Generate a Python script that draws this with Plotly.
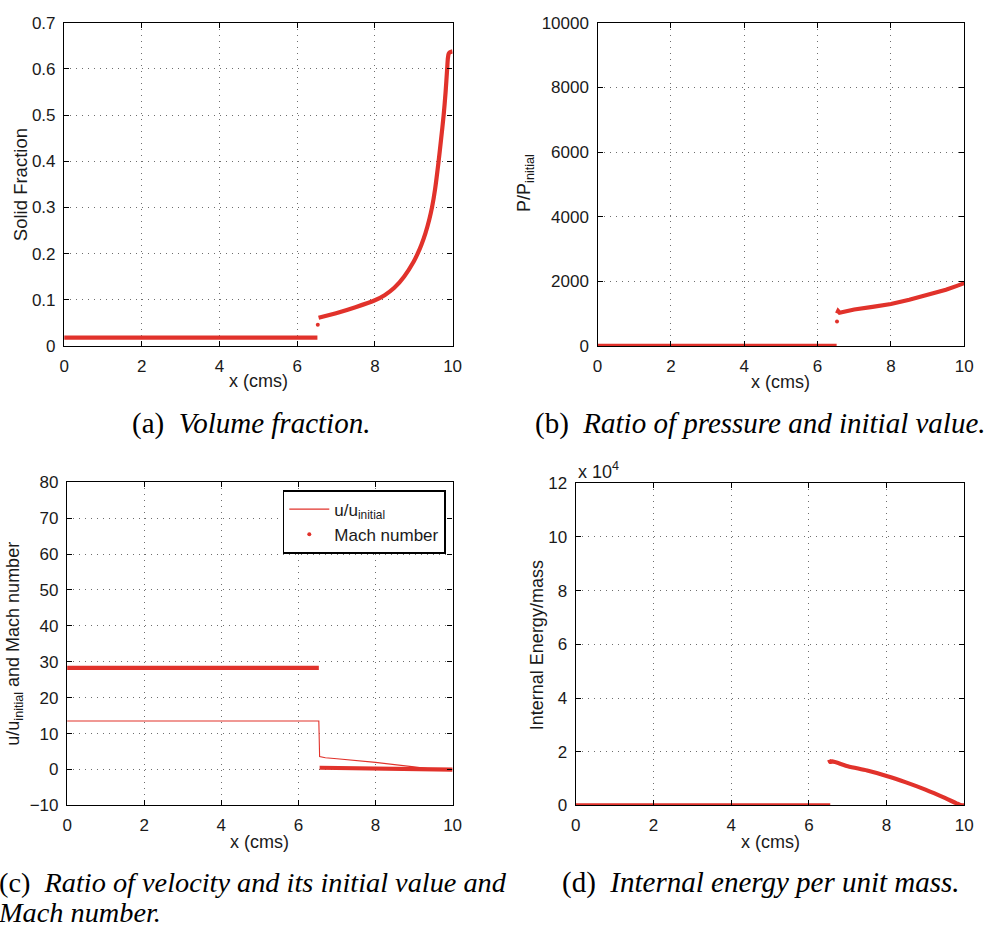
import plotly.graph_objects as go

RED = "#e1322b"
SANS = "Liberation Sans"
SERIF = "Liberation Serif"

# (a) solid volume fraction along the tube
sf_x_upstream = [0.0, 6.52]
sf_upstream = [0.018, 0.018]
sf_x_front = [6.53]
sf_front = [0.046]
sf_x_compacted = [6.55, 7.0, 7.5, 8.0, 8.25, 8.5, 8.75, 9.0, 9.1, 9.2, 9.3, 9.4, 9.47,
                  9.55, 9.64, 9.7, 9.77, 9.82, 9.86, 9.88, 9.9, 9.93, 10.0]
sf_compacted = [0.061, 0.071, 0.084, 0.099, 0.110, 0.126, 0.150, 0.183, 0.200, 0.220,
                0.244, 0.274, 0.300, 0.340, 0.400, 0.445, 0.500, 0.550, 0.600, 0.624,
                0.633, 0.636, 0.638]

# (b) pressure ratio P/P_initial
p_x_upstream = [0.0, 6.52]
p_upstream = [1.0, 1.0]
p_x_front = [6.53]
p_front = [760]
p_x_compacted = [6.53, 6.56, 6.6, 6.7, 7.0, 7.5, 8.0, 8.5, 9.0, 9.5, 9.8, 9.9, 10.0]
p_compacted = [1010, 1080, 1030, 1060, 1130, 1210, 1300, 1430, 1580, 1740, 1860, 1915, 1945]

# (c) velocity ratio u/u_initial and Mach number
u_x = [0.0, 6.53, 6.55, 6.7, 7.0, 8.0, 9.0, 9.4, 10.0]
u_ratio = [13.5, 13.5, 3.6, 3.3, 3.0, 2.0, 0.75, 0.2, 0.0]
mach_x_upstream = [0.0, 6.53]
mach_upstream = [28.3, 28.3]
mach_x_compacted = [6.55, 7.0, 8.0, 9.0, 10.0]
mach_compacted = [0.5, 0.4, 0.3, 0.1, 0.0]

# (d) internal energy per unit mass
ie_x_upstream = [0.0, 6.55]
ie_upstream = [0.0, 0.0]
ie_x_compacted = [6.52, 6.55, 6.6, 7.0, 7.5, 8.0, 8.5, 9.0, 9.5, 9.8, 9.9, 10.0]
ie_compacted = [17000, 16200, 16400, 14600, 13000, 11000, 8600, 5900, 2800, 800, 200, 0]
ie_tick_vals = [0, 20000, 40000, 60000, 80000, 100000, 120000]
ie_tick_text = ["0", "2", "4", "6", "8", "10", "12"]

W, H = 992, 934


def px_x(p):
    return p / W


def px_y(p):
    return 1 - p / H


fig = go.Figure()

THICK = 4.2


def thick(x, y, xa, ya, shape="linear"):
    fig.add_trace(go.Scatter(x=x, y=y, mode="lines",
                             line=dict(color=RED, width=THICK, shape=shape, smoothing=0.8),
                             xaxis=xa, yaxis=ya, showlegend=False, hoverinfo="skip"))


def dot(x, y, xa, ya):
    fig.add_trace(go.Scatter(x=x, y=y, mode="markers", marker=dict(color=RED, size=4),
                             xaxis=xa, yaxis=ya, showlegend=False, hoverinfo="skip"))


# (a)
thick(sf_x_upstream, sf_upstream, "x", "y")
dot(sf_x_front, sf_front, "x", "y")
thick(sf_x_compacted, sf_compacted, "x", "y", shape="spline")

# (b)
thick(p_x_upstream, p_upstream, "x2", "y2")
dot(p_x_front, p_front, "x2", "y2")
thick(p_x_compacted, p_compacted, "x2", "y2")

# (c)
fig.add_trace(go.Scatter(x=u_x, y=u_ratio, mode="lines", line=dict(color=RED, width=1.1),
                         name="u/u<sub>initial</sub>", xaxis="x3", yaxis="y3",
                         hoverinfo="skip"))
fig.add_trace(go.Scatter(x=mach_x_upstream, y=mach_upstream, mode="lines",
                         line=dict(color=RED, width=THICK), xaxis="x3", yaxis="y3",
                         legendgroup="mach", showlegend=False, hoverinfo="skip"))
fig.add_trace(go.Scatter(x=mach_x_compacted, y=mach_compacted, mode="lines",
                         line=dict(color=RED, width=THICK), xaxis="x3", yaxis="y3",
                         legendgroup="mach", showlegend=False, hoverinfo="skip"))
fig.add_trace(go.Scatter(x=[None], y=[None], mode="markers", name="Mach number",
                         marker=dict(color=RED, size=4), xaxis="x3", yaxis="y3",
                         legendgroup="mach", hoverinfo="skip"))

# (d)
thick(ie_x_upstream, ie_upstream, "x4", "y4")
thick(ie_x_compacted, ie_compacted, "x4", "y4", shape="spline")

axis_common = dict(
    showline=True, linecolor="black", linewidth=1.4, mirror="ticks",
    ticks="inside", ticklen=5, tickwidth=1, tickcolor="black",
    showgrid=True, gridcolor="#6e6e6e", gridwidth=1, griddash="1px,5px",
    zeroline=False, tickfont=dict(family=SANS, size=17, color="#1a1a1a"),
)

xdom = {
    "a": [px_x(60), px_x(454)],
    "b": [px_x(601), px_x(973)],
    "c": [px_x(63), px_x(454)],
    "d": [px_x(579), px_x(973)],
}
ydom = {
    "a": [px_y(344), px_y(14)],
    "b": [px_y(344), px_y(14)],
    "c": [px_y(813), px_y(483)],
    "d": [px_y(813), px_y(484)],
}

xticks = dict(range=[0, 10], tickvals=[0, 2, 4, 6, 8, 10], ticklabelstandoff=4)
ytick_std = dict(ticklabelstandoff=4)

fig.update_layout(
    width=W, height=H,
    margin=dict(l=0, r=0, t=0, b=0),
    paper_bgcolor="white", plot_bgcolor="white",
    xaxis=dict(domain=xdom["a"], anchor="y", **xticks, **axis_common),
    yaxis=dict(domain=ydom["a"], anchor="x", range=[0, 0.7],
               tickvals=[0, 0.1, 0.2, 0.3, 0.4, 0.5, 0.6, 0.7],
               ticktext=["0", "0.1", "0.2", "0.3", "0.4", "0.5", "0.6", "0.7"],
               **ytick_std, **axis_common),
    xaxis2=dict(domain=xdom["b"], anchor="y2", **xticks, **axis_common),
    yaxis2=dict(domain=ydom["b"], anchor="x2", range=[0, 10000],
                tickvals=[0, 2000, 4000, 6000, 8000, 10000],
                ticktext=["0", "2000", "4000", "6000", "8000", "10000"],
                **ytick_std, **axis_common),
    xaxis3=dict(domain=xdom["c"], anchor="y3", **xticks, **axis_common),
    yaxis3=dict(domain=ydom["c"], anchor="x3", range=[-10, 80],
                tickvals=[-10, 0, 10, 20, 30, 40, 50, 60, 70, 80],
                ticktext=["\u221210", "0", "10", "20", "30", "40", "50", "60", "70", "80"],
                **ytick_std, **axis_common),
    xaxis4=dict(domain=xdom["d"], anchor="y4", **xticks, **axis_common),
    yaxis4=dict(domain=ydom["d"], anchor="x4", range=[0, 120000],
                tickvals=ie_tick_vals, ticktext=ie_tick_text, **ytick_std, **axis_common),
    legend=dict(
        x=px_x(447), y=px_y(491), xanchor="right", yanchor="top",
        bgcolor="white", bordercolor="black", borderwidth=1.6,
        font=dict(family=SANS, size=17, color="#1a1a1a"),
        tracegroupgap=0, itemwidth=40,
    ),
)

ann = []


def label(text, x, y, size=18, angle=0, xanchor="center", font=SANS, color="#1a1a1a"):
    ann.append(dict(text=text, x=px_x(x), y=px_y(y), xref="paper", yref="paper",
                    xanchor=xanchor, yanchor="middle", showarrow=False, textangle=angle,
                    font=dict(family=font, size=size, color=color)))


# axis titles
label("x (cms)", 257, 380)
label("x (cms)", 787, 381)
label("x (cms)", 258, 850)
label("x (cms)", 776, 850)
label("Solid Fraction", 16, 179, size=18.5, angle=-90)
label("P/P<sub>initial</sub>", 528, 178, angle=-90)
label("u/u<sub>initial</sub> and Mach number", 10, 648, angle=-90)
label("Internal Energy/mass", 539, 649, angle=-90)
label("x 10<sup>4</sup>", 579, 471, xanchor="left")

# captions
CAP = 29
label("(a)  <i>Volume fraction.</i>", 250, 423, size=CAP, font=SERIF, color="black")
label("(b)  <i>Ratio of pressure and initial value.</i>", 766, 423, size=CAP, font=SERIF,
      color="black")
label("(c)  <i>Ratio of velocity and its initial value and</i>", -8, 892, size=28.3,
      font=SERIF, xanchor="left", color="black")
label("<i>Mach number.</i>", -9, 922, size=28.3, font=SERIF, xanchor="left", color="black")
label("(d)  <i>Internal energy per unit mass.</i>", 767, 892, size=CAP, font=SERIF,
      color="black")

fig.update_layout(annotations=ann)

fig.write_html("out.html")
